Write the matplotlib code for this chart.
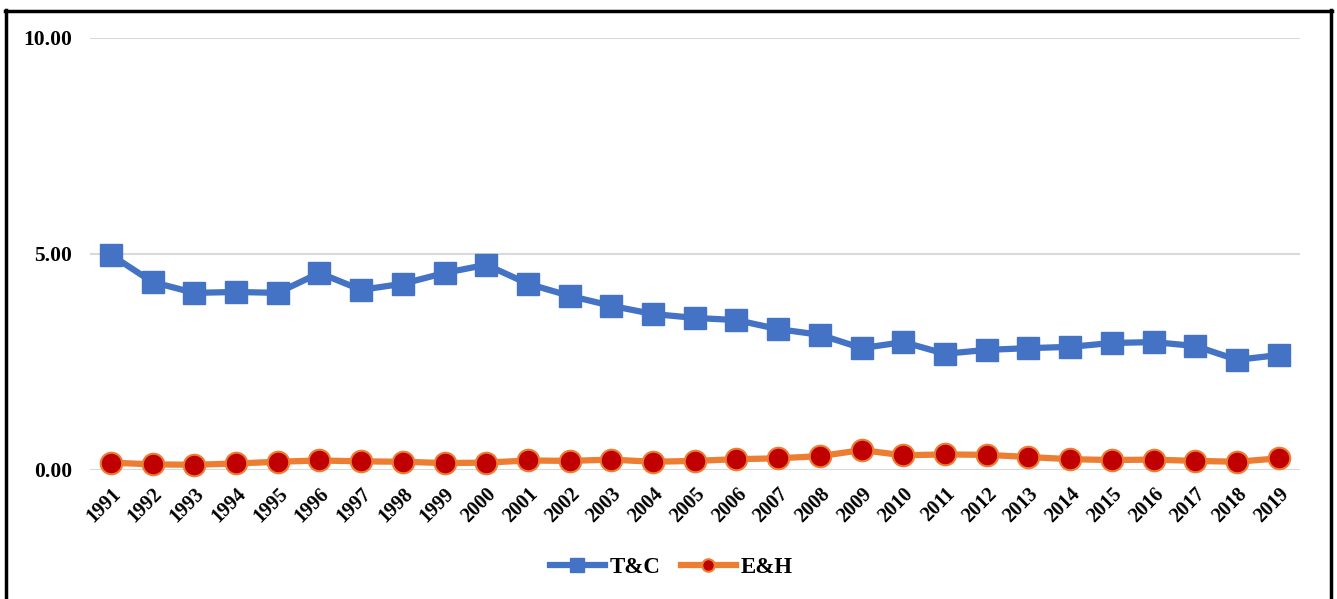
import matplotlib
matplotlib.use('Agg')
import matplotlib.pyplot as plt
from matplotlib.lines import Line2D

years = list(range(1991, 2020))
tc = [4.98, 4.35, 4.10, 4.12, 4.10, 4.56, 4.17, 4.31, 4.56, 4.75,
      4.31, 4.03, 3.80, 3.61, 3.52, 3.47, 3.26, 3.13, 2.82, 2.96,
      2.69, 2.78, 2.82, 2.85, 2.94, 2.96, 2.87, 2.55, 2.66]
eh = [0.17, 0.13, 0.12, 0.15, 0.19, 0.22, 0.20, 0.19, 0.16, 0.17,
      0.22, 0.21, 0.24, 0.19, 0.21, 0.25, 0.27, 0.32, 0.46, 0.34,
      0.36, 0.35, 0.30, 0.25, 0.23, 0.24, 0.21, 0.19, 0.27]
yticks = [0.0, 5.0, 10.0]

plt.rcParams['font.family'] = ['Liberation Serif', 'DejaVu Serif']
plt.rcParams['font.weight'] = 'bold'

fig = plt.figure(figsize=(13.37, 5.99), dpi=100)
fig.patch.set_facecolor('white')
ax = fig.add_axes([0.0673, 0.2154, 0.9047, 0.7212])

x = list(range(len(years)))
ax.plot(x, tc, color='#4472C4', lw=4.5, marker='s', ms=15.5,
        mfc='#4472C4', mec='#4472C4', label='T&C', clip_on=False, zorder=3)
ax.plot(x, eh, color='#ED7D31', lw=4.5, marker='o', ms=15.5,
        mfc='#C00000', mec='#ED7D31', mew=1.5, label='E&H', clip_on=False, zorder=3)

ax.set_xlim(-0.5, len(years) - 0.5)
ax.set_ylim(0, 10)
ax.set_yticks(yticks)
ax.set_yticklabels(['{:.2f}'.format(v) for v in yticks], fontsize=15.5, fontweight='bold')
ax.set_xticks(x)
ax.set_xticklabels([str(y) for y in years], fontsize=14.5, fontweight='bold',
                   rotation=45, ha='right', rotation_mode='anchor')
ax.tick_params(axis='both', length=0)
ax.tick_params(axis='y', pad=13)
ax.tick_params(axis='x', pad=10)
ax.yaxis.grid(True, color='#D9D9D9', lw=1.5)
ax.set_axisbelow(True)
for s in ax.spines.values():
    s.set_visible(False)

leg = fig.legend(loc='center', bbox_to_anchor=(0.502, 0.053), ncol=2, frameon=False,
                 prop={'family': 'Liberation Serif', 'weight': 'bold', 'size': 16.5},
                 handlelength=2.4, columnspacing=0.9, handletextpad=0.2)
for h in leg.legend_handles:
    h.set_markersize(9)
    h.set_linewidth(4.5)
leg.legend_handles[0].set_markersize(10)

# outer frame, open at the bottom
fig.add_artist(Line2D([0.0045, 0.0045], [0.0, 0.983], color='black', lw=2.5, transform=fig.transFigure))
fig.add_artist(Line2D([0.0035, 0.9965], [0.982, 0.982], color='black', lw=2.5, transform=fig.transFigure))
fig.add_artist(Line2D([0.9955, 0.9955], [0.0, 0.983], color='black', lw=2.5, transform=fig.transFigure))

fig.savefig('out.png', dpi=100)
